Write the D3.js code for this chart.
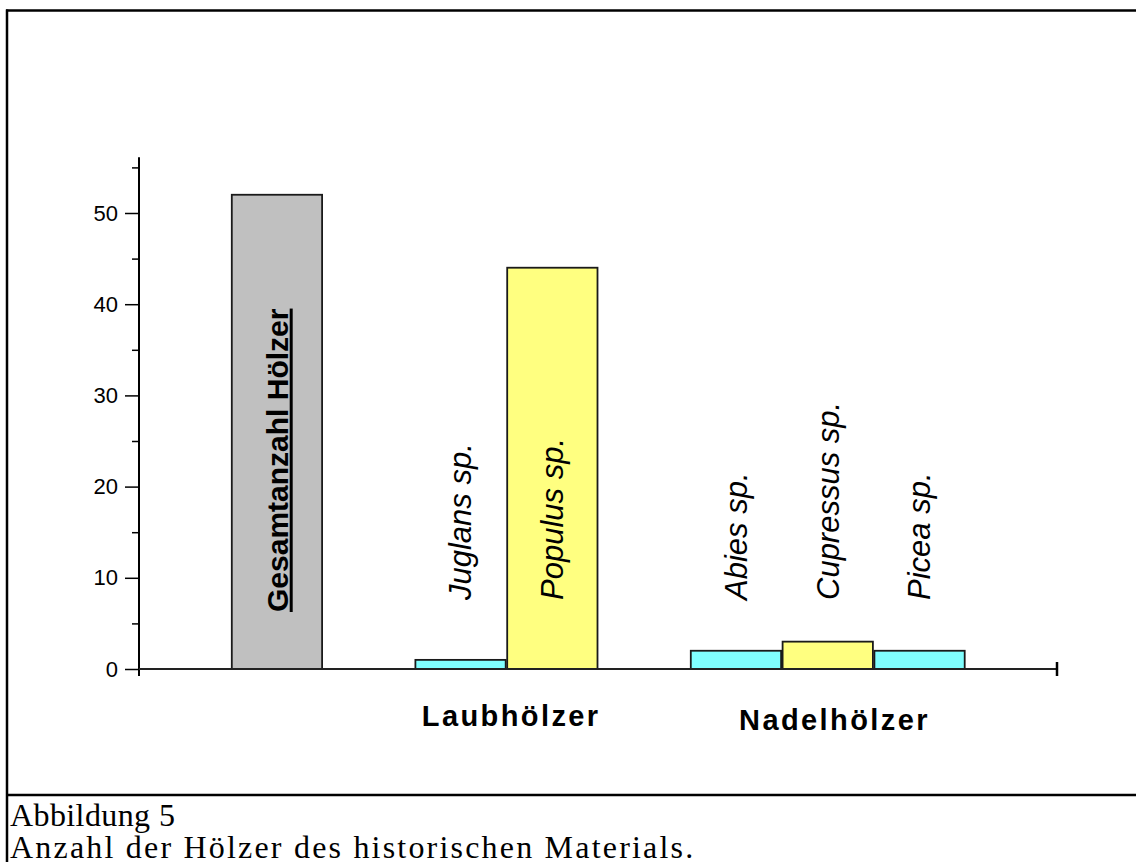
<!DOCTYPE html>
<html>
<head>
<meta charset="utf-8">
<script src="https://cdn.jsdelivr.net/npm/d3@7"></script>
<style>
  body { margin: 0; background: #fff; }
  svg { display: block; }
</style>
</head>
<body>
<div id="chart-area"></div>
<script>
// data
const slotOrder = ["pad0", "Gesamtanzahl Hölzer", "pad1", "Juglans sp.", "Populus sp.", "pad2", "Abies sp.", "Cupressus sp.", "Picea sp.", "pad3"];
const categories = ["Gesamtanzahl Hölzer", "Juglans sp.", "Populus sp.", "Abies sp.", "Cupressus sp.", "Picea sp."];
const values = [52, 1, 44, 2, 3, 2];
const kinds = ["total", "cyan", "yellow", "cyan", "yellow", "cyan"];
const groups = [
  { name: "Laubhölzer", members: ["Juglans sp.", "Populus sp."] },
  { name: "Nadelhölzer", members: ["Abies sp.", "Cupressus sp.", "Picea sp."] }
];
const majorTicks = [0, 10, 20, 30, 40, 50];
const minorTicks = [5, 15, 25, 35, 45, 55];
const captionLines = ["Abbildung 5", "Anzahl der Hölzer des historischen Materials."];

const fills = { total: "#c0c0c0", cyan: "#80ffff", yellow: "#ffff80" };

const W = 1136, H = 862;
const svg = d3.select("#chart-area").append("svg")
    .attr("width", W)
    .attr("height", H);

// frame (table cell look)
svg.append("line").attr("x1", 6).attr("x2", W).attr("y1", 10.5).attr("y2", 10.5)
    .attr("stroke", "#000").attr("stroke-width", 2.5);
svg.append("line").attr("x1", 7).attr("x2", 7).attr("y1", 9.5).attr("y2", H)
    .attr("stroke", "#000").attr("stroke-width", 2.5);
svg.append("line").attr("x1", 6).attr("x2", W).attr("y1", 795).attr("y2", 795)
    .attr("stroke", "#000").attr("stroke-width", 2.5);

const x0 = 139, x1 = 1057, yBase = 669;

const xScale = d3.scaleBand()
    .domain(slotOrder)
    .range([x0, x1])
    .paddingInner(0)
    .paddingOuter(0);

const yScale = d3.scaleLinear()
    .domain([0, 56])
    .range([yBase, yBase - 56 * 9.12]);

const data = categories.map((c, i) => ({ name: c, value: values[i], kind: kinds[i] }));

// bars
svg.selectAll(".bar")
  .data(data)
  .enter().append("rect")
    .attr("class", "bar")
    .attr("x", d => xScale(d.name) + 1)
    .attr("width", xScale.bandwidth() - 1.5)
    .attr("y", d => yScale(d.value))
    .attr("height", d => yScale(0) - yScale(d.value))
    .attr("fill", d => fills[d.kind])
    .attr("stroke", "#1a1a1a")
    .attr("stroke-width", 1.8);

// y axis
const yAxis = svg.append("g")
    .attr("transform", `translate(${x0},0)`)
    .call(d3.axisLeft(yScale).tickValues(majorTicks).tickSize(14).tickSizeOuter(0).tickPadding(7));
yAxis.select(".domain").remove();
yAxis.selectAll(".tick line").attr("stroke", "#000").attr("stroke-width", 1.5);
yAxis.selectAll(".tick text")
    .attr("font-family", "Liberation Sans, Arial, sans-serif")
    .attr("font-size", 22)
    .attr("fill", "#000");

const yMinor = svg.append("g")
    .attr("transform", `translate(${x0},0)`)
    .call(d3.axisLeft(yScale).tickValues(minorTicks).tickSize(7).tickFormat(""));
yMinor.select(".domain").remove();
yMinor.selectAll(".tick line").attr("stroke", "#000").attr("stroke-width", 1.5);

svg.append("line")
    .attr("x1", x0).attr("x2", x0)
    .attr("y1", yScale(0) + 7).attr("y2", yScale(56) - 1)
    .attr("stroke", "#000").attr("stroke-width", 2);

// x axis
svg.append("line")
    .attr("x1", x0).attr("x2", x1)
    .attr("y1", yScale(0)).attr("y2", yScale(0))
    .attr("stroke", "#222").attr("stroke-width", 2);
svg.append("line")
    .attr("x1", x1).attr("x2", x1)
    .attr("y1", yScale(0) - 7).attr("y2", yScale(0) + 7)
    .attr("stroke", "#000").attr("stroke-width", 2.5);

// rotated bar labels
svg.selectAll(".bar-label")
  .data(data)
  .enter().append("text")
    .attr("class", "bar-label")
    .attr("transform", d => {
        const cx = xScale(d.name) + xScale.bandwidth() / 2 + 11;
        const cy = d.kind === "total" ? 612 : 600;
        return `translate(${cx},${cy}) rotate(-90)`;
    })
    .attr("font-family", "Liberation Sans, Arial, sans-serif")
    .attr("font-size", d => d.kind === "total" ? 30 : 31)
    .attr("font-weight", d => d.kind === "total" ? "bold" : "normal")
    .attr("font-style", d => d.kind === "total" ? "normal" : "italic")
    .attr("text-decoration", d => d.kind === "total" ? "underline" : null)
    .attr("fill", "#000")
    .text(d => d.name);

// group labels
svg.selectAll(".group-label")
  .data(groups)
  .enter().append("text")
    .attr("class", "group-label")
    .attr("x", (g, i) => {
        const a = xScale(g.members[0]);
        const b = xScale(g.members[g.members.length - 1]) + xScale.bandwidth();
        return (a + b) / 2 + (i === 0 ? 5 : 7);
    })
    .attr("y", (g, i) => i === 0 ? 726 : 730)
    .attr("text-anchor", "middle")
    .attr("font-family", "Liberation Sans, Arial, sans-serif")
    .attr("font-size", 29)
    .attr("font-weight", "bold")
    .attr("letter-spacing", 2.4)
    .attr("fill", "#000")
    .text(g => g.name);

// caption
svg.selectAll(".caption")
  .data(captionLines)
  .enter().append("text")
    .attr("class", "caption")
    .attr("x", 10)
    .attr("y", (d, i) => 826 + i * 32)
    .attr("font-family", "Liberation Serif, Times New Roman, serif")
    .attr("font-size", 32)
    .attr("letter-spacing", (d, i) => i === 0 ? 0.4 : 2.2)
    .attr("fill", "#000")
    .text(d => d);
</script>
</body>
</html>
